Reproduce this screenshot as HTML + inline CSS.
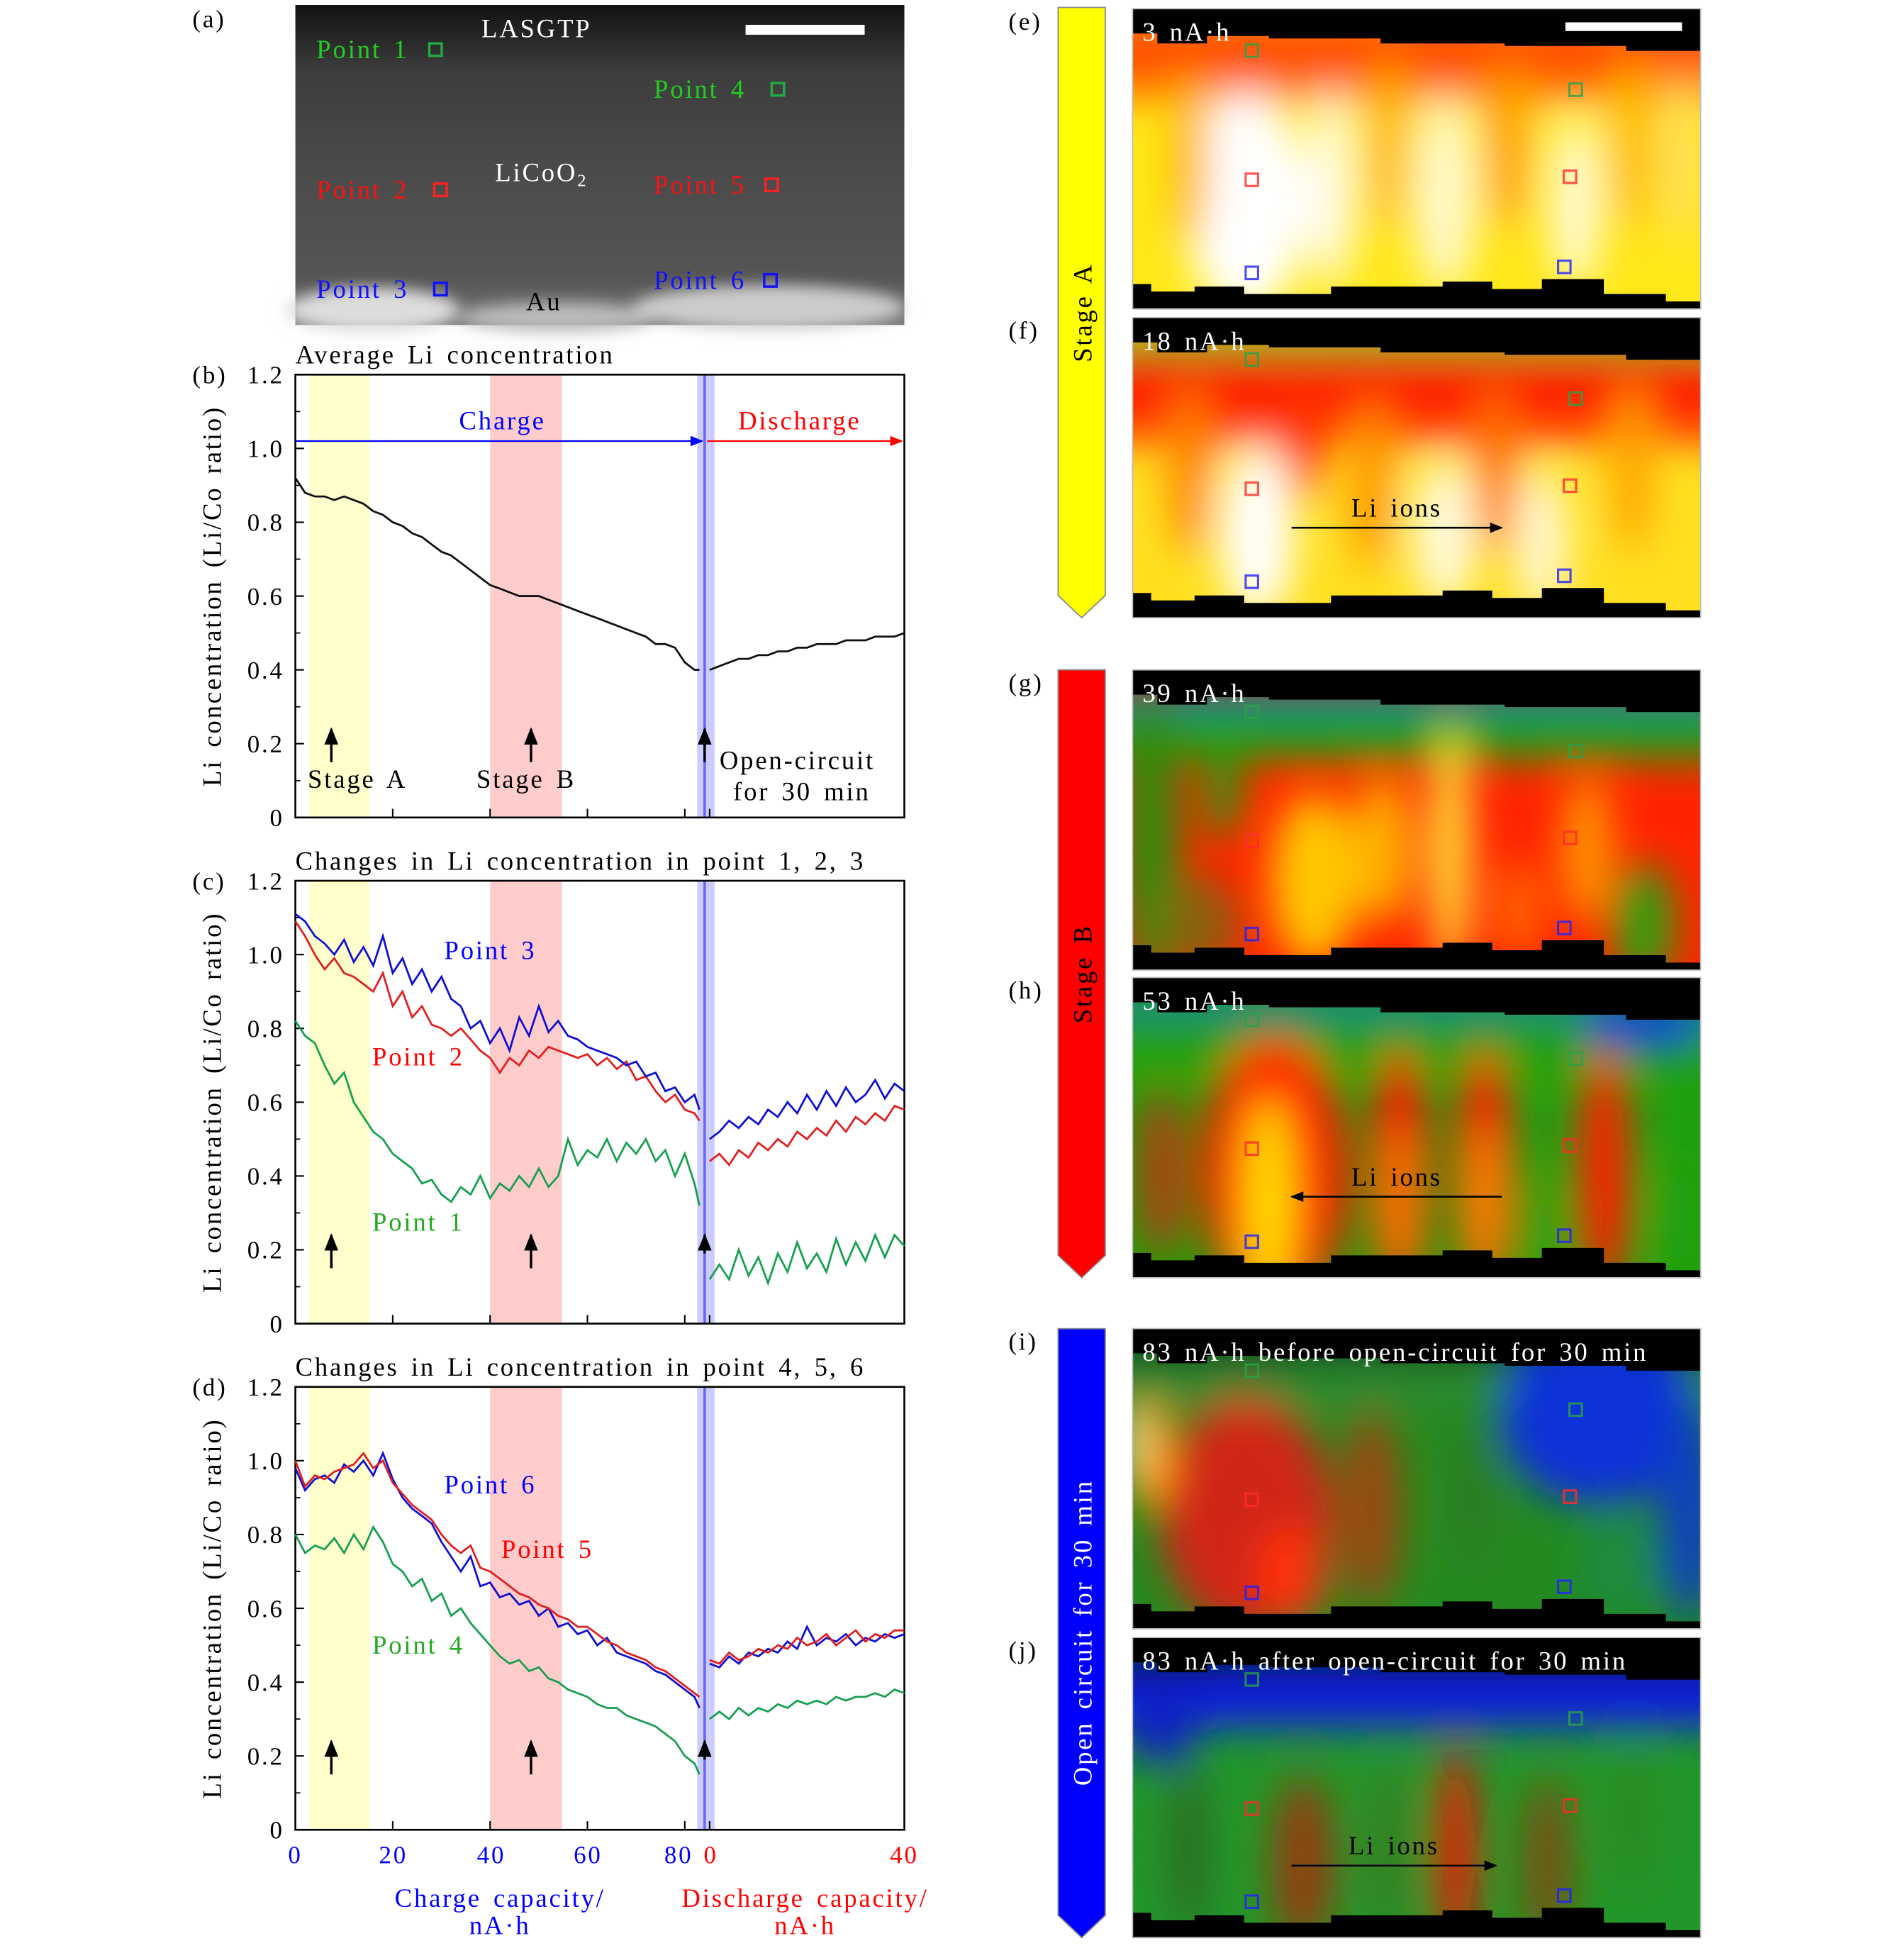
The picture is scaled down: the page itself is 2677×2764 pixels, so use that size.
<!DOCTYPE html>
<html><head><meta charset="utf-8"><style>
html,body{margin:0;padding:0;background:#fff}
svg{display:block}
text{font-family:"Liberation Serif",serif;letter-spacing:1.6px;word-spacing:3px}
</style></head><body>
<svg id="root" xmlns="http://www.w3.org/2000/svg" width="2677" height="2764" viewBox="0 0 1530 1580">
<defs>
<filter id="blur" x="-50%" y="-50%" width="200%" height="200%"><feGaussianBlur stdDeviation="16"/></filter>
<filter id="blurS" x="-50%" y="-50%" width="200%" height="200%"><feGaussianBlur stdDeviation="6"/></filter>
<linearGradient id="gA" x1="0" y1="0" x2="0" y2="1"><stop offset="0" stop-color="#111"/><stop offset="0.2" stop-color="#3c3c3c"/><stop offset="0.5" stop-color="#4a4a4a"/><stop offset="0.85" stop-color="#555"/><stop offset="1" stop-color="#777"/></linearGradient>
<marker id="ab" viewBox="0 0 10 10" refX="9" refY="5" markerWidth="8" markerHeight="8" orient="auto"><path d="M0,1 L10,5 L0,9 z" fill="#0000ff"/></marker>
<marker id="ar" viewBox="0 0 10 10" refX="9" refY="5" markerWidth="8" markerHeight="8" orient="auto"><path d="M0,1 L10,5 L0,9 z" fill="#ff0000"/></marker>
<marker id="ak" viewBox="0 0 10 10" refX="9" refY="5" markerWidth="7" markerHeight="7" orient="auto"><path d="M0,1 L10,5 L0,9 z" fill="#000"/></marker>
</defs>

<g>
<text x="155" y="22" font-size="20">(a)</text>
<rect x="238" y="4" width="491" height="258" fill="url(#gA)"/>
<g filter="url(#blurS)">
<ellipse cx="300" cy="250" rx="70" ry="18" fill="#ddd"/><ellipse cx="450" cy="256" rx="80" ry="12" fill="#bbb"/><ellipse cx="620" cy="248" rx="110" ry="18" fill="#ccc"/>
</g>
<rect x="601" y="20" width="96" height="8" fill="#fff"/>
<text x="388" y="30" font-size="21" fill="#fff">LASGTP</text>
<text x="399" y="146" font-size="21" fill="#fff">LiCoO<tspan font-size="14" dy="4">2</tspan></text>
<text x="424" y="250" font-size="21" fill="#000">Au</text>
<text x="255" y="47" font-size="21" fill="#22cc22">Point 1</text>
<rect x="346" y="35" width="10" height="10" fill="none" stroke="#22aa44" stroke-width="2"/>
<text x="255" y="160" font-size="21" fill="#ff1010">Point 2</text>
<rect x="350" y="148" width="10" height="10" fill="none" stroke="#ff2020" stroke-width="2"/>
<text x="255" y="240" font-size="21" fill="#1010ff">Point 3</text>
<rect x="350" y="228" width="10" height="10" fill="none" stroke="#1010ff" stroke-width="2"/>
<text x="527" y="79" font-size="21" fill="#22cc22">Point 4</text>
<rect x="622" y="67" width="10" height="10" fill="none" stroke="#22aa44" stroke-width="2"/>
<text x="527" y="156" font-size="21" fill="#ff1010">Point 5</text>
<rect x="617" y="144" width="10" height="10" fill="none" stroke="#ff2020" stroke-width="2"/>
<text x="527" y="233" font-size="21" fill="#1010ff">Point 6</text>
<rect x="616" y="221" width="10" height="10" fill="none" stroke="#1010ff" stroke-width="2"/>
</g>

<g id="charts"></g>
<g id="heat"></g>

<g font-size="20">
<text x="238" y="1502" text-anchor="middle" fill="#0000ff">0</text>
<text x="317" y="1502" text-anchor="middle" fill="#0000ff">20</text>
<text x="396" y="1502" text-anchor="middle" fill="#0000ff">40</text>
<text x="474" y="1502" text-anchor="middle" fill="#0000ff">60</text>
<text x="547" y="1502" text-anchor="middle" fill="#0000ff">80</text>
<text x="573" y="1502" text-anchor="middle" fill="#ff0000">0</text>
<text x="729" y="1502" text-anchor="middle" fill="#ff0000">40</text>
<text x="403" y="1537" text-anchor="middle" fill="#0000ff" font-size="21">Charge capacity/</text>
<text x="403" y="1559" text-anchor="middle" fill="#0000ff" font-size="21">nA·h</text>
<text x="649" y="1537" text-anchor="middle" fill="#ff0000" font-size="21">Discharge capacity/</text>
<text x="649" y="1559" text-anchor="middle" fill="#ff0000" font-size="21">nA·h</text>
</g>

<g>
<path d="M853,6 H891 V480 L872,498 L853,480 Z" fill="#ffff00" stroke="#888" stroke-width="1"/>
<text transform="translate(880,252) rotate(-90)" text-anchor="middle" font-size="21">Stage A</text>
<path d="M853,540 H891 V1012 L872,1030 L853,1012 Z" fill="#ff0000" stroke="#888" stroke-width="1"/>
<text transform="translate(880,785) rotate(-90)" text-anchor="middle" font-size="21">Stage B</text>
<path d="M853,1071 H891 V1544 L872,1562 L853,1544 Z" fill="#0000ff" stroke="#888" stroke-width="1"/>
<text transform="translate(880,1316) rotate(-90)" text-anchor="middle" font-size="21" fill="#fff">Open circuit for 30 min</text>
</g>
</svg>

<script>
const chargeX = [0,2,4,6,8,10,12,14,16,18,20,22,24,26,28,30,32,34,36,38,40,42,44,46,48,50,52,54,56,58,60,62,64,66,68,70,72,74,76,78,80,82,83];
const dischargeX = [0,2,4,6,8,10,12,14,16,18,20,22,24,26,28,30,32,34,36,38,40];
const yTicks = [0,0.2,0.4,0.6,0.8,1.0,1.2];
const yTickLabels = ["0","0.2","0.4","0.6","0.8","1.0","1.2"];
const avgCharge = [0.92,0.88,0.87,0.87,0.86,0.87,0.86,0.85,0.83,0.82,0.80,0.79,0.77,0.76,0.74,0.72,0.71,0.69,0.67,0.65,0.63,0.62,0.61,0.60,0.60,0.60,0.59,0.58,0.57,0.56,0.55,0.54,0.53,0.52,0.51,0.50,0.49,0.47,0.47,0.46,0.42,0.40,0.40];
const avgDischarge = [0.40,0.41,0.42,0.43,0.43,0.44,0.44,0.45,0.45,0.46,0.46,0.47,0.47,0.47,0.48,0.48,0.48,0.49,0.49,0.49,0.50];
const p3Charge = [1.11,1.09,1.05,1.03,1.00,1.04,0.98,1.02,0.97,1.05,0.95,0.99,0.92,0.96,0.90,0.94,0.88,0.86,0.80,0.82,0.76,0.80,0.74,0.83,0.78,0.86,0.79,0.82,0.78,0.77,0.75,0.74,0.73,0.72,0.70,0.71,0.67,0.68,0.63,0.64,0.60,0.62,0.58];
const p3Discharge = [0.50,0.52,0.55,0.53,0.56,0.54,0.58,0.56,0.60,0.57,0.62,0.58,0.63,0.59,0.64,0.60,0.62,0.66,0.61,0.65,0.63];
const p2Charge = [1.09,1.05,1.00,0.96,0.99,0.95,0.94,0.92,0.90,0.95,0.86,0.90,0.83,0.86,0.81,0.80,0.78,0.80,0.77,0.74,0.72,0.68,0.72,0.70,0.74,0.72,0.75,0.74,0.73,0.72,0.73,0.70,0.72,0.69,0.71,0.66,0.67,0.63,0.60,0.62,0.58,0.57,0.55];
const p2Discharge = [0.44,0.46,0.43,0.47,0.45,0.49,0.47,0.50,0.48,0.52,0.50,0.53,0.51,0.55,0.52,0.56,0.54,0.57,0.55,0.59,0.58];
const p1Charge = [0.82,0.78,0.76,0.70,0.65,0.68,0.60,0.56,0.52,0.50,0.46,0.44,0.42,0.38,0.39,0.35,0.33,0.37,0.35,0.40,0.34,0.38,0.36,0.40,0.37,0.42,0.37,0.40,0.50,0.43,0.47,0.45,0.50,0.44,0.49,0.46,0.50,0.44,0.47,0.40,0.46,0.38,0.32];
const p1Discharge = [0.12,0.16,0.12,0.20,0.13,0.18,0.11,0.19,0.14,0.22,0.15,0.19,0.14,0.23,0.16,0.22,0.17,0.24,0.18,0.24,0.21];
const p6Charge = [0.98,0.92,0.95,0.96,0.94,0.99,0.97,1.00,0.96,1.02,0.95,0.90,0.87,0.85,0.83,0.78,0.74,0.70,0.74,0.66,0.67,0.63,0.64,0.61,0.62,0.58,0.60,0.55,0.56,0.53,0.54,0.50,0.52,0.48,0.47,0.46,0.45,0.43,0.42,0.40,0.38,0.36,0.33];
const p6Discharge = [0.45,0.44,0.47,0.45,0.48,0.47,0.49,0.48,0.51,0.49,0.55,0.50,0.52,0.51,0.53,0.50,0.52,0.51,0.53,0.52,0.53];
const p5Charge = [1.00,0.93,0.96,0.95,0.97,0.98,0.99,1.02,0.98,1.00,0.94,0.91,0.88,0.86,0.84,0.80,0.77,0.75,0.77,0.71,0.70,0.68,0.66,0.64,0.63,0.61,0.60,0.58,0.57,0.55,0.55,0.53,0.51,0.50,0.48,0.47,0.46,0.44,0.43,0.41,0.39,0.37,0.36];
const p5Discharge = [0.46,0.45,0.48,0.46,0.47,0.49,0.48,0.50,0.49,0.52,0.50,0.51,0.53,0.50,0.52,0.54,0.51,0.53,0.52,0.54,0.54];
const p4Charge = [0.80,0.75,0.77,0.76,0.79,0.75,0.80,0.76,0.82,0.78,0.72,0.70,0.66,0.68,0.62,0.64,0.58,0.60,0.56,0.53,0.50,0.47,0.45,0.46,0.43,0.44,0.41,0.40,0.38,0.37,0.36,0.34,0.33,0.33,0.31,0.30,0.29,0.28,0.26,0.24,0.20,0.18,0.15];
const p4Discharge = [0.30,0.32,0.30,0.33,0.31,0.33,0.32,0.34,0.33,0.35,0.34,0.35,0.34,0.36,0.35,0.36,0.36,0.37,0.36,0.38,0.37];

const NS = "http://www.w3.org/2000/svg";
function mk(tag, attrs, parent){ const e=document.createElementNS(NS,tag); for(const k in attrs) e.setAttribute(k,attrs[k]); if(parent) parent.appendChild(e); return e; }
const L=238, R=729, H=357;
const xC = c => L + c*3.925;
const xD = d => 572 + d*3.925;

function lineSeries(g, yS, xs, ys, xf, color, name){
  const d = xs.map((x,i)=>(i?'L':'M')+xf(x).toFixed(1)+','+yS(ys[i]).toFixed(1)).join(' ');
  const p = mk('path',{d:d,fill:'none',stroke:color,'stroke-width':1.6},g);
  
  
  return p;
}

function chart(top, lab, title, name){
  const charts = document.getElementById('charts');
  const g = mk('g',{},charts);
  
  
  const B = top + H;
  const yS = v => B - v/1.2*H;
  const b1 = mk('rect',{x:249,y:top,width:49,height:H,fill:'#ffffcc'},g);
  
  
  const b2 = mk('rect',{x:395,y:top,width:58,height:H,fill:'#ffcccc'},g);
  
  
  const b3 = mk('rect',{x:562,y:top,width:14,height:H,fill:'#ccccff'},g);
  
  
  mk('line',{x1:568,y1:top,x2:568,y2:B,stroke:'#6666ff','stroke-width':2},g);
  const fr = mk('rect',{x:L,y:top,width:R-L,height:H,fill:'none',stroke:'#000','stroke-width':1.5},g);
  
  
  yTicks.forEach((v,i)=>{
    mk('line',{x1:L,y1:yS(v),x2:L+7,y2:yS(v),stroke:'#000','stroke-width':1.2},g);
    if(i < yTicks.length-1) mk('line',{x1:L,y1:yS(v+0.1),x2:L+4,y2:yS(v+0.1),stroke:'#000','stroke-width':1},g);
    const t = mk('text',{x:229,y:yS(v)+7,'text-anchor':'end','font-size':20},g);
    t.textContent = yTickLabels[i];
    
    
  });
  [20,40,60,80].forEach(c=>mk('line',{x1:xC(c),y1:B,x2:xC(c),y2:B-7,stroke:'#000','stroke-width':1.2},g));
  mk('line',{x1:xD(0),y1:B,x2:xD(0),y2:B-7,stroke:'#000','stroke-width':1.2},g);
  const lt = mk('text',{x:155,y:top+7,'font-size':20},g); lt.textContent = lab;
  
  
  const tt = mk('text',{x:L,y:top-9,'font-size':21},g); tt.textContent = title;
  
  
  const yt = mk('text',{transform:`translate(178,${top+H/2}) rotate(-90)`,'text-anchor':'middle','font-size':21},g);
  yt.textContent = 'Li concentration (Li/Co ratio)';
  
  
  return {g, yS, B};
}

function upArrow(g, x, y1, y2){
  const a = mk('line',{x1:x,y1:y1,x2:x,y2:y2,stroke:'#000','stroke-width':2,'marker-end':'url(#ak)'},g);
  
  
}
function addLabel(g, x, y, txt, color, name){
  const t = mk('text',{x:x,y:y,'font-size':21,fill:color},g); t.textContent = txt;
  
  
}

let c = chart(302,'(b)','Average Li concentration','chart-average');
mk('line',{x1:L,y1:c.yS(1.02),x2:566,y2:c.yS(1.02),stroke:'#0000ff','stroke-width':1.3,'marker-end':'url(#ab)'},c.g);
mk('line',{x1:570,y1:c.yS(1.02),x2:727,y2:c.yS(1.02),stroke:'#ff0000','stroke-width':1.3,'marker-end':'url(#ar)'},c.g);
addLabel(c.g,370,346,'Charge','#0000ff','charge-label');
addLabel(c.g,595,346,'Discharge','#ff0000','discharge-label');
lineSeries(c.g,c.yS,chargeX,avgCharge,xC,'#111','avg-charge-line');
lineSeries(c.g,c.yS,dischargeX,avgDischarge,xD,'#111','avg-discharge-line');
upArrow(c.g,267,c.yS(0.15),c.yS(0.24));
upArrow(c.g,428,c.yS(0.15),c.yS(0.24));
upArrow(c.g,568,c.yS(0.15),c.yS(0.24));
addLabel(c.g,248,635,'Stage A','#000','stage-a-text');
addLabel(c.g,384,635,'Stage B','#000','stage-b-text');
addLabel(c.g,580,620,'Open-circuit','#000','open-circuit-text');
addLabel(c.g,591,645,'for 30 min','#000','open-circuit-text-2');

c = chart(710,'(c)','Changes in Li concentration in point 1, 2, 3','chart-points-123');
lineSeries(c.g,c.yS,chargeX,p1Charge,xC,'#16a050','point1-charge');
lineSeries(c.g,c.yS,dischargeX,p1Discharge,xD,'#16a050','point1-discharge');
lineSeries(c.g,c.yS,chargeX,p2Charge,xC,'#e02020','point2-charge');
lineSeries(c.g,c.yS,dischargeX,p2Discharge,xD,'#e02020','point2-discharge');
lineSeries(c.g,c.yS,chargeX,p3Charge,xC,'#1010d0','point3-charge');
lineSeries(c.g,c.yS,dischargeX,p3Discharge,xD,'#1010d0','point3-discharge');
addLabel(c.g,358,773,'Point 3','#0000ff','point3-legend');
addLabel(c.g,300,859,'Point 2','#ff0000','point2-legend');
addLabel(c.g,300,992,'Point 1','#22aa22','point1-legend');
upArrow(c.g,267,c.yS(0.15),c.yS(0.24));
upArrow(c.g,428,c.yS(0.15),c.yS(0.24));
upArrow(c.g,568,c.yS(0.19),c.yS(0.24));

c = chart(1118,'(d)','Changes in Li concentration in point 4, 5, 6','chart-points-456');
lineSeries(c.g,c.yS,chargeX,p4Charge,xC,'#16a050','point4-charge');
lineSeries(c.g,c.yS,dischargeX,p4Discharge,xD,'#16a050','point4-discharge');
lineSeries(c.g,c.yS,chargeX,p6Charge,xC,'#1010d0','point6-charge');
lineSeries(c.g,c.yS,dischargeX,p6Discharge,xD,'#1010d0','point6-discharge');
lineSeries(c.g,c.yS,chargeX,p5Charge,xC,'#e02020','point5-charge');
lineSeries(c.g,c.yS,dischargeX,p5Discharge,xD,'#e02020','point5-discharge');
addLabel(c.g,358,1204,'Point 6','#0000ff','point6-legend');
addLabel(c.g,404,1256,'Point 5','#ff0000','point5-legend');
addLabel(c.g,300,1333,'Point 4','#22aa22','point4-legend');
upArrow(c.g,267,c.yS(0.15),c.yS(0.24));
upArrow(c.g,428,c.yS(0.15),c.yS(0.24));
upArrow(c.g,568,c.yS(0.19),c.yS(0.24));

const HX=913, HW=458, HH=242;
const panels = [
 {y:7, lab:'(e)', txt:'3 nA·h', base:'#ffe818', bands:[['#ff1a00',0.05,0.16],['#ff6a00',0.16,0.3]],
  blobs:[[0.2,0.65,50,90,'#ffffff'],[0.35,0.6,20,80,'#fffbe8'],[0.55,0.62,25,80,'#fff9d0'],[0.78,0.65,20,70,'#fffbe0'],[0.1,0.5,16,70,'#ffb400'],[0.45,0.45,14,70,'#ffb000'],[0.66,0.45,16,70,'#ff9a00'],[0.88,0.45,16,70,'#ffb800'],[0.97,0.5,16,70,'#ffe060']], arrow:null},
 {y:256, lab:'(f)', txt:'18 nA·h', base:'#ffe020', bands:[['#30a020',0.05,0.13],['#ff1000',0.13,0.3],['#ff4000',0.3,0.42]],
  blobs:[[0.22,0.72,30,70,'#ffffff'],[0.55,0.72,25,60,'#fffbe0'],[0.72,0.75,22,60,'#fff8d0'],[0.1,0.5,16,70,'#ff8000'],[0.42,0.55,16,70,'#ff9000'],[0.64,0.5,16,70,'#ff7000'],[0.88,0.5,16,70,'#ffa000'],[0.3,0.4,16,50,'#ff3000']], arrow:[0.28,0.70,0.65,'Li ions']},
 {y:540, lab:'(g)', txt:'39 nA·h', base:'#ff2400', bands:[['#1878a0',0.05,0.13],['#20a010',0.13,0.3]],
  blobs:[[0.03,0.55,25,120,'#308a10'],[0.12,0.85,30,40,'#8a6010'],[0.32,0.7,35,70,'#ffc800'],[0.44,0.6,25,60,'#ffb000'],[0.56,0.6,14,100,'#ffff40'],[0.8,0.6,20,60,'#ff9800'],[0.9,0.85,25,50,'#30a010'],[0.68,0.8,16,40,'#ff7000'],[0.16,0.4,14,40,'#20a010']], arrow:null},
 {y:788, lab:'(h)', txt:'53 nA·h', base:'#20a010', bands:[['#1878a0',0.05,0.12],['#20a010',0.12,0.3]],
  blobs:[[0.25,0.65,60,110,'#ff2000'],[0.47,0.65,24,100,'#ff1800'],[0.62,0.65,24,100,'#ff2000'],[0.83,0.65,22,100,'#ff2000'],[0.24,0.75,20,85,'#ffe000'],[0.47,0.75,10,60,'#ff8a00'],[0.62,0.75,10,60,'#ff9a00'],[0.9,0.16,50,18,'#1040d0'],[0.72,0.85,12,50,'#20a010'],[0.96,0.8,14,50,'#20a010'],[0.05,0.65,20,70,'#b04010']], arrow:[0.65,0.73,0.28,'Li ions']},
 {y:1071, lab:'(i)', txt:'83 nA·h before open-circuit for 30 min', base:'#248a20', bands:[['#000010',0,0.1],['#2a8a30',0.1,0.25]],
  blobs:[[0.2,0.62,70,95,'#d02818'],[0.03,0.42,18,45,'#ffa000'],[0.0,0.38,8,25,'#fff0a0'],[0.42,0.6,25,80,'#9a4a10'],[0.82,0.3,80,70,'#1030d8'],[0.98,0.6,25,90,'#1040c0'],[0.6,0.55,16,60,'#2a7a20'],[0.28,0.82,28,40,'#ff3010'],[0.85,0.8,30,40,'#1a8a40']], arrow:null},
 {y:1320, lab:'(j)', txt:'83 nA·h after open-circuit for 30 min', base:'#22962a', bands:[['#000000',0.02,0.12],['#1020e0',0.12,0.3]],
  blobs:[[0.57,0.72,15,85,'#ff1000'],[0.3,0.75,26,70,'#904010'],[0.73,0.75,20,70,'#7a5010'],[0.1,0.7,16,70,'#2a6a20'],[0.45,0.7,14,70,'#3a7a20'],[0.88,0.6,18,60,'#2a8a20'],[0.05,0.3,30,30,'#1020c0']], arrow:[0.28,0.76,0.64,'Li ions']}
];
const sq = [[0.21,0.14,'#2aa04a'],[0.21,0.57,'#ff2a2a'],[0.21,0.88,'#2020ff'],[0.78,0.27,'#2aa04a'],[0.77,0.56,'#ff2a2a'],[0.76,0.86,'#2020ff']];
const heat = document.getElementById('heat');
panels.forEach((p,pi)=>{
  const g = mk('g',{},heat);
  
  
  const cid = 'clip'+pi;
  const cp = mk('clipPath',{id:cid},g); mk('rect',{x:HX,y:p.y,width:HW,height:HH},cp);
  const inner = mk('g',{'clip-path':`url(#${cid})`},g);
  mk('rect',{x:HX,y:p.y,width:HW,height:HH,fill:p.base},inner);
  const bl = mk('g',{filter:'url(#blur)'},inner);
  p.bands.forEach(b=>mk('rect',{x:HX-30,y:p.y+b[1]*HH,width:HW+60,height:(b[2]-b[1])*HH,fill:b[0]},bl));
  p.blobs.forEach(b=>mk('ellipse',{cx:HX+b[0]*HW,cy:p.y+b[1]*HH,rx:b[2],ry:b[3],fill:b[4]},bl));
  mk('path',{d:`M${HX},${p.y} H${HX+HW} V${p.y+34} H${HX+HW-60} V${p.y+30} H${HX+300} V${p.y+28} H${HX+200} V${p.y+24} H${HX+110} V${p.y+22} H${HX+60} V${p.y+28} H${HX+20} V${p.y+20} H${HX} Z`,fill:'#000'},inner);
  mk('path',{d:`M${HX},${p.y+HH} V${p.y+HH-20} H${HX+15} V${p.y+HH-14} H${HX+50} V${p.y+HH-18} H${HX+90} V${p.y+HH-12} H${HX+160} V${p.y+HH-18} H${HX+250} V${p.y+HH-22} H${HX+290} V${p.y+HH-16} H${HX+330} V${p.y+HH-24} H${HX+380} V${p.y+HH-12} H${HX+430} V${p.y+HH-6} H${HX+HW} V${p.y+HH} Z`,fill:'#000'},inner);
  sq.forEach(s=>mk('rect',{x:HX+s[0]*HW-5,y:p.y+s[1]*HH-5,width:10,height:10,fill:'none',stroke:s[2],'stroke-width':1.8,opacity:0.8},inner));
  if(p.arrow){
    const ay = p.y+p.arrow[1]*HH;
    const a = mk('line',{x1:HX+p.arrow[0]*HW,y1:ay,x2:HX+p.arrow[2]*HW,y2:ay,stroke:'#000','stroke-width':1.5,'marker-end':'url(#ak)'},inner);
    
    
    const at = mk('text',{x:HX+(p.arrow[0]+p.arrow[2])/2*HW,y:ay-9,'text-anchor':'middle','font-size':21},inner);
    at.textContent = p.arrow[3];
    
    
  }
  mk('rect',{x:HX,y:p.y,width:HW,height:HH,fill:'none',stroke:'#bbb','stroke-width':1},g);
  const t = mk('text',{x:HX+8,y:p.y+26,'font-size':21,fill:'#fff'},g); t.textContent = p.txt;
  
  
  const l = mk('text',{x:813,y:p.y+17,'font-size':20},g); l.textContent = p.lab;
  
  
  if(pi===0){
    const sb = mk('rect',{x:1262,y:p.y+11,width:94,height:7,fill:'#fff'},g);
    
    
  }
});
</script>
</body></html>
